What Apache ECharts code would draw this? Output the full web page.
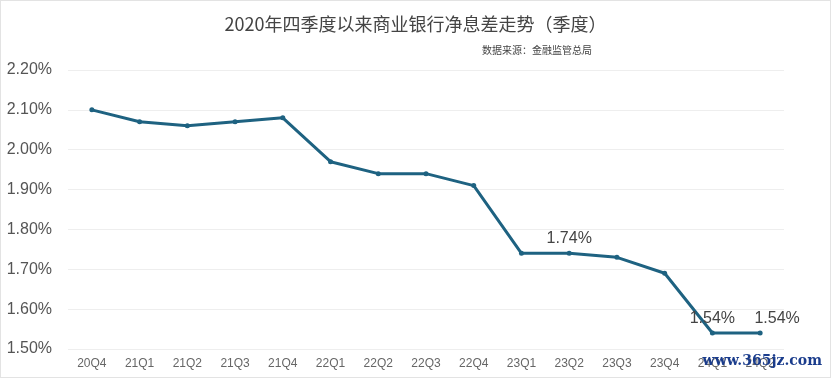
<!DOCTYPE html>
<html><head><meta charset="utf-8">
<script src="https://cdn.jsdelivr.net/npm/echarts@6/dist/echarts.min.js"></script>
<style>html,body{margin:0;padding:0;background:#fff}#c{width:831px;height:378px;box-sizing:border-box;border:1px solid #e3e3e3}</style>
</head><body><div id="c"></div>
<script>
var categories = ['20Q4','21Q1','21Q2','21Q3','21Q4','22Q1','22Q2','22Q3','22Q4','23Q1','23Q2','23Q3','23Q4','24Q1','24Q2'];
var nimValues = [2.10, 2.07, 2.06, 2.07, 2.08, 1.97, 1.94, 1.94, 1.91, 1.74, 1.74, 1.73, 1.69, 1.54, 1.54];
var labeledCategories = ['23Q2','24Q1','24Q2'];
var titleText = '2020年四季度以来商业银行净息差走势（季度）';
var sourceText = '数据来源：金融监管总局';

var chart = echarts.init(document.getElementById('c'));
var ff = '"Noto Sans CJK SC","Noto Sans",sans-serif';
var lf = '"Liberation Sans","Noto Sans",sans-serif';
chart.setOption({
  animation: false,
  title: [
    {text: titleText, left: 'center', top: 9, textStyle: {fontFamily: ff, fontSize: 18, fontWeight: 'normal', color: '#444'}},
    {text: sourceText, right: 233, top: 39, textStyle: {fontFamily: ff, fontSize: 10, fontWeight: 'normal', color: '#444'}}
  ],
  grid: {left: 67, right: 46, top: 69, bottom: 28},
  xAxis: {
    type: 'category', data: categories, boundaryGap: true,
    axisLine: {show: false}, axisTick: {show: false},
    axisLabel: {color: '#666', fontFamily: lf, fontSize: 12, margin: 9}
  },
  yAxis: {
    type: 'value', min: 1.5, max: 2.2, interval: 0.1,
    axisLine: {show: false}, axisTick: {show: false},
    splitLine: {lineStyle: {color: '#eeeeee', width: 1}},
    axisLabel: {color: '#555', fontFamily: lf, fontSize: 16, margin: 16, formatter: function(v){return v.toFixed(2)+'%';}}
  },
  series: [{
    type: 'line', data: nimValues.map(function(v, i){
      var o = {value: v};
      if (labeledCategories.indexOf(categories[i]) >= 0) {
        o.label = {show: true, position: 'top', distance: 4, offset: [i === categories.length - 1 ? 17 : 0, 0], formatter: function(p){return p.value.toFixed(2)+'%';}, color: '#444', fontFamily: lf, fontSize: 16};
      }
      return o;
    }),
    symbol: 'circle', symbolSize: 5,
    lineStyle: {color: '#1e6281', width: 3},
    itemStyle: {color: '#1e6281'}
  }],
  graphic: [{type: 'text', right: 8, top: 353, z: 100, style: {text: 'www.365jz.com', fill: '#1a3c8c', font: 'bold 14px "DejaVu Serif", serif'}}]
});
</script></body></html>
